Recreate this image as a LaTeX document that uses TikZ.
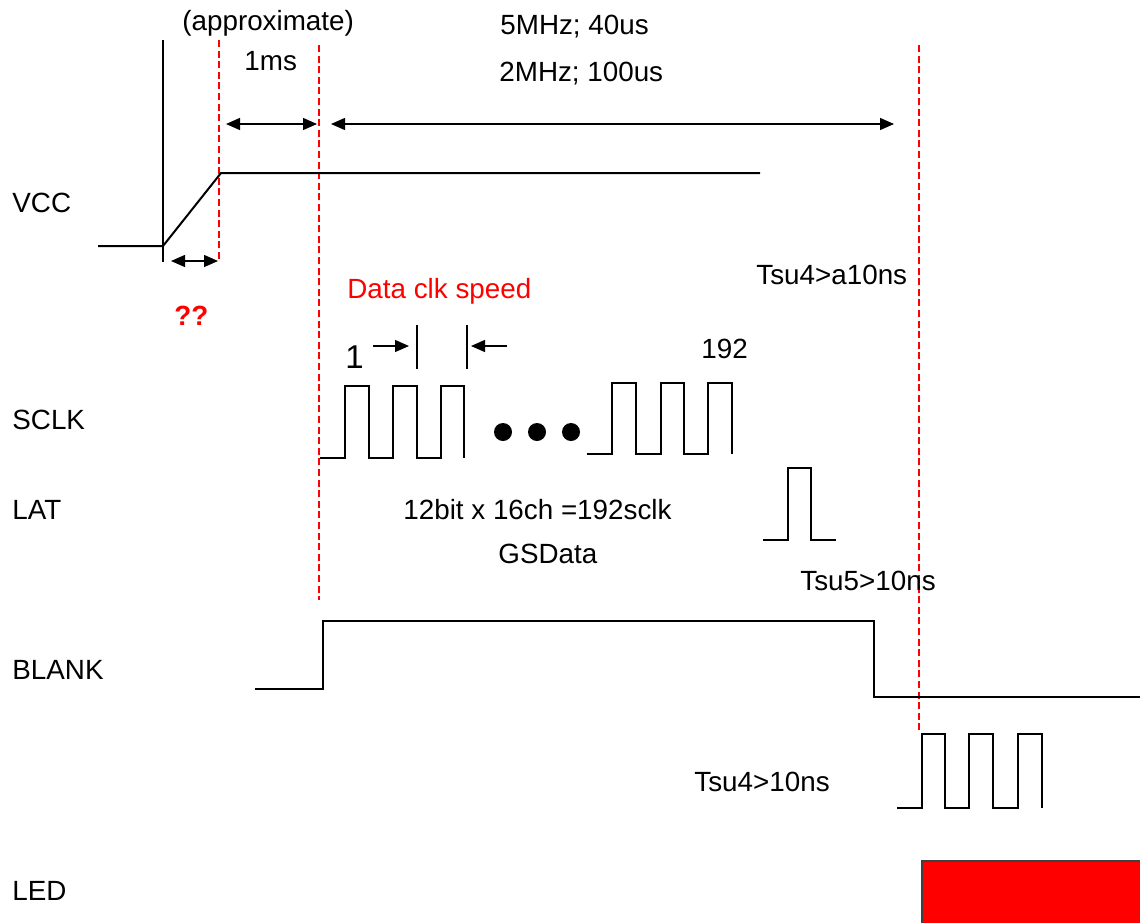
\documentclass[tikz,border=0pt]{standalone}
\usepackage{fontspec}
\setmainfont{Liberation Sans}
\usetikzlibrary{arrows.meta}
\begin{document}
\begin{tikzpicture}[x=0.5pt,y=-0.5pt,
  wave/.style={line width=1pt, line join=miter},
  guide/.style={red, line width=1pt, dash pattern=on 3.5pt off 1.8pt},
  dim/.style={line width=0.65pt, {Triangle[length=7pt,width=6pt]}-{Triangle[length=7pt,width=6pt]}},
  oneway/.style={line width=0.65pt, -{Triangle[length=7pt,width=6pt]}},
  lbl/.style={anchor=base west, inner sep=0pt, font=\fontsize{13.9}{16}\selectfont}]
\useasboundingbox (0,0) rectangle (1140,922);

% red dashed guide lines
\draw[guide] (219,40) -- (219,262);
\draw[guide] (319,45) -- (319,600);
\draw[guide] (919,45) -- (919,732);

% VCC
\draw[wave] (163,40) -- (163,262);
\draw[wave] (98,246) -- (163,246) -- (221,173) -- (760,173);

% dimension arrows
\draw[dim] (226,124) -- (317,124);
\draw[dim] (331,124) -- (894,124);
\draw[dim] (171,261) -- (218,261);

% SCLK first group
\draw[wave] (320,458) -- (345,458) -- (345,386) -- (369,386) -- (369,458) -- (393,458) -- (393,386) -- (417,386) -- (417,458) -- (441,458) -- (441,386) -- (464,386) -- (464,458);
% dots
\fill (503,432) circle[radius=4.5pt];
\fill (537,432) circle[radius=4.5pt];
\fill (571,432) circle[radius=4.5pt];
% SCLK second group
\draw[wave] (587,454) -- (612,454) -- (612,383) -- (636,383) -- (636,454) -- (661,454) -- (661,383) -- (684,383) -- (684,454) -- (708,454) -- (708,383) -- (732,383) -- (732,454);

% period markers
\draw[line width=0.7pt] (417,325) -- (417,369);
\draw[line width=0.7pt] (467,325) -- (467,369);
\draw[oneway] (373,346) -- (409,346);
\draw[oneway] (507,346) -- (471,346);

% LAT
\draw[wave] (763,540) -- (788,540) -- (788,468) -- (811,468) -- (811,540) -- (836,540);

% BLANK
\draw[wave] (255,689) -- (323,689) -- (323,621) -- (874,621) -- (874,697) -- (1140,697);

% GS clock
\draw[wave] (897,808) -- (922,808) -- (922,734) -- (945,734) -- (945,808) -- (969,808) -- (969,734) -- (993,734) -- (993,808) -- (1018,808) -- (1018,734) -- (1042,734) -- (1042,808);

% LED
\draw[fill=red, draw=black!75, line width=0.6pt] (922,861) rectangle (1142,924);

% labels
\node[lbl] (vcc) at (12,212) {VCC};
\node[lbl] (sclk) at (12,429) {SCLK};
\node[lbl] (lat) at (12,519) {LAT};
\node[lbl] (blank) at (12,679) {BLANK};
\node[lbl] (led) at (12,900) {LED};

\node[lbl] (approx) at (182,30) {(approximate)};
\node[lbl] (onems) at (244,70) {1ms};
\node[lbl] (f5) at (500,34) {5MHz; 40us};
\node[lbl] (f2) at (499,81) {2MHz; 100us};
\node[lbl] (tsua) at (756,284) {Tsu4>a10ns};
\node[lbl, text=red] (dclk) at (347,298) {Data clk speed};
\node[lbl, text=red, font=\fontsize{13.9}{16}\selectfont\bfseries] (qq) at (174,325) {??};
\node[lbl, font=\fontsize{16.5}{18}\selectfont] (one) at (345,368) {1};
\node[lbl] (n192) at (701,358) {192};
\node[lbl] (bits) at (403,519) {12bit x 16ch =192sclk};
\node[lbl] (gs) at (498,563) {GSData};
\node[lbl] (tsu5) at (800,590) {Tsu5>10ns};
\node[lbl] (tsu4) at (694,791) {Tsu4>10ns};
\end{tikzpicture}
\end{document}
